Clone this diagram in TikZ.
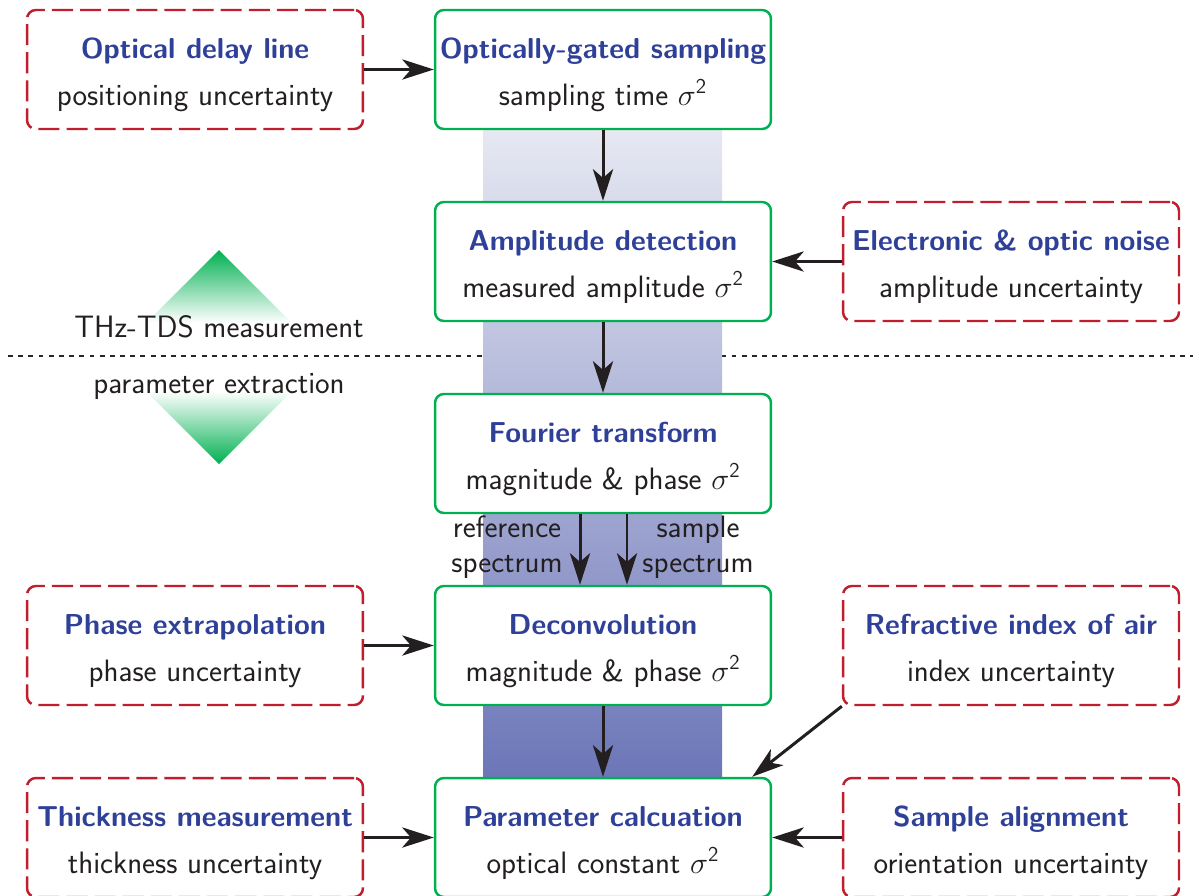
\documentclass[tikz,border=0pt]{standalone}
\usetikzlibrary{arrows.meta,calc}
\definecolor{tblue}{RGB}{46,64,152}
\definecolor{tred}{RGB}{192,30,45}
\definecolor{tgreen}{RGB}{0,176,80}
\definecolor{bandtop}{RGB}{230,232,242}
\definecolor{bandbot}{RGB}{108,118,184}
\definecolor{arrc}{RGB}{35,31,32}
\pgfdeclareverticalshading{diamondshade}{100bp}{color(0bp)=(tgreen); color(25bp)=(tgreen); color(42bp)=(white); color(58bp)=(white); color(75bp)=(tgreen); color(100bp)=(tgreen)}
\newcommand{\flowbox}[6]{%
  \node[#1] (#2) at (#3,#4) {};
  \node[ttl] (#2-t) at (#3,#4-11.5) {#5};
  \node[sub] (#2-s) at (#3,#4+35.5) {#6};
}
\newcommand{\sigsq}{$\sigma^{\mathsf{2}}$}
\begin{document}
\begin{tikzpicture}[x=0.02cm,y=-0.02cm,
  font=\sffamily\fontsize{17.6}{21}\selectfont,
  basebox/.style={rectangle, rounded corners=5pt, line width=1.4pt,
    minimum width=6.72cm, minimum height=2.38cm, fill=white, inner sep=0pt},
  proc/.style={basebox, draw=tgreen},
  src/.style={basebox, draw=tred, dash pattern=on 12pt off 4pt},
  ttl/.style={anchor=base, inner sep=0pt, text=tblue, font=\sffamily\bfseries\fontsize{16.4}{20}\selectfont},
  sub/.style={anchor=base, inner sep=0pt, text=arrc},
  lbl/.style={anchor=base, inner sep=0pt, text=arrc},
  arr/.style={line width=1.7pt, draw=arrc, -{Stealth[length=18pt,width=11.5pt,inset=5pt]}},
]
\useasboundingbox (0,0) rectangle (1197,896);
% diamond
\shade[shading=diamondshade]
  (219,250) -- (326,357) -- (219,464) -- (112,357) -- cycle;
% dashed separator
\draw[line width=0.7pt, black!85, dash pattern=on 2.8pt off 3pt] (8,356) coordinate (sepl) -- (1193,356) coordinate (sepr);
% gradient band
\shade[top color=bandtop, bottom color=bandbot] (483,130) rectangle (722,778);
\node[lbl] (meas) at (219,337) {THz-TDS measurement};
\node[lbl] (extr) at (219,393) {parameter extraction};
% boxes
\flowbox{src}{odl}{195}{69.5}{Optical delay line}{positioning uncertainty}
\flowbox{proc}{og}{603}{69.5}{Optically-gated sampling}{sampling time \sigsq}
\flowbox{proc}{ad}{603}{261.5}{Amplitude detection}{measured amplitude \sigsq}
\flowbox{src}{eon}{1011}{261.5}{Electronic \& optic noise}{amplitude uncertainty}
\flowbox{proc}{ft}{603}{453.5}{Fourier transform}{magnitude \& phase \sigsq}
\flowbox{src}{pe}{195}{645.5}{Phase extrapolation}{phase uncertainty}
\flowbox{proc}{dc}{603}{645.5}{Deconvolution}{magnitude \& phase \sigsq}
\flowbox{src}{ri}{1011}{645.5}{Refractive index of air}{index uncertainty}
\flowbox{src}{tm}{195}{837.5}{Thickness measurement}{thickness uncertainty}
\flowbox{proc}{pc}{603}{837.5}{Parameter calcuation}{optical constant \sigsq}
\flowbox{src}{sa}{1011}{837.5}{Sample alignment}{orientation uncertainty}
% spectrum labels
\node[lbl] (ref1) at (507,537) {reference};
\node[lbl] (ref2) at (507,572) {spectrum};
\node[lbl] (sam1) at (698,537) {sample};
\node[lbl] (sam2) at (698,572) {spectrum};
% arrows
\draw[arr] (odl) -- (og);
\draw[arr] (og) -- (ad);
\draw[arr] (eon) -- (ad);
\draw[arr] (ad) -- (ft);
\draw[arr] ([xshift=-0.46cm]ft.south) -- ([xshift=-0.46cm]dc.north);
\draw[arr] ([xshift=0.48cm]ft.south) -- ([xshift=0.48cm]dc.north);
\draw[arr] (pe) -- (dc);
\draw[arr] (dc) -- (pc);
\draw[arr] (ri.south west) -- ([xshift=-0.4cm]pc.north east);
\draw[arr] (tm) -- (pc);
\draw[arr] (sa) -- (pc);
\end{tikzpicture}
\end{document}
